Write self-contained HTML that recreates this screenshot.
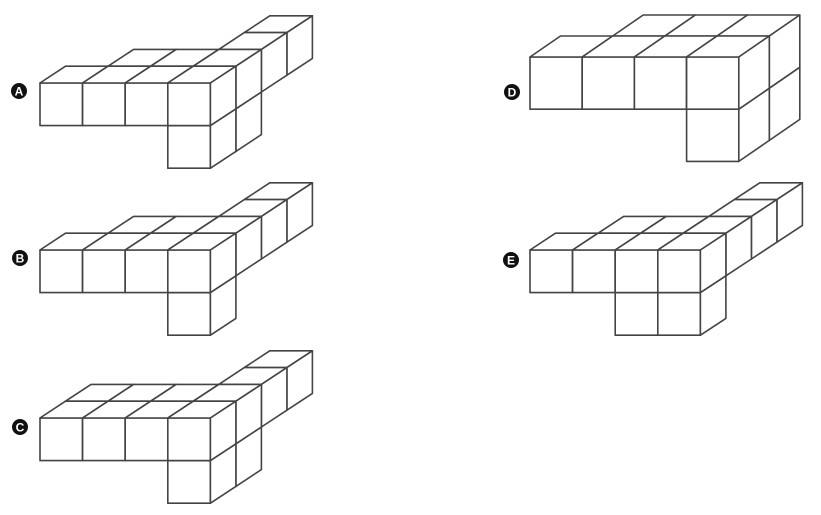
<!DOCTYPE html>
<html><head><meta charset="utf-8"><style>
html,body{margin:0;padding:0;background:#fff;width:821px;height:515px;overflow:hidden}
svg{display:block}
</style></head><body>
<svg id="s" width="821" height="515" viewBox="0 0 821 515" xmlns="http://www.w3.org/2000/svg">
<g font-family="Liberation Sans, sans-serif" font-weight="bold" font-size="12" text-anchor="middle" fill="#fff">
<circle cx="19" cy="91" r="8" fill="#111"/><text x="19" y="95.5">A</text>
<circle cx="20" cy="258" r="8" fill="#111"/><text x="20" y="262.5">B</text>
<circle cx="20" cy="427" r="8" fill="#111"/><text x="20" y="431.5">C</text>
<circle cx="512" cy="92" r="8" fill="#111"/><text x="512" y="96.5">D</text>
<circle cx="511" cy="260" r="8" fill="#111"/><text x="511" y="264.5">E</text>
</g>
<g id="cubes" fill="#fff" stroke="#444" stroke-width="1.6" stroke-linejoin="round"></g>
</svg>
<script>
var g=document.getElementById('cubes');
function fig(X0,Y0,s,dx,dy,cubes){
  cubes.sort(function(a,b){ if(a[1]!==b[1]) return b[1]-a[1]; if(a[2]!==b[2]) return a[2]-b[2]; return a[0]-b[0];});
  cubes.forEach(function(c){
    var x=X0+c[0]*s+c[1]*dx, y=Y0-c[2]*s+c[1]*dy;
    var P=function(pts){var p=document.createElementNS('http://www.w3.org/2000/svg','polygon');
      p.setAttribute('points',pts.map(function(q){return q[0].toFixed(1)+','+q[1].toFixed(1)}).join(' '));g.appendChild(p);};
    P([[x,y],[x+s,y],[x+s,y+s],[x,y+s]]);
    P([[x,y],[x+dx,y+dy],[x+s+dx,y+dy],[x+s,y]]);
    P([[x+s,y],[x+s+dx,y+dy],[x+s+dx,y+s+dy],[x+s,y+s]]);
  });
}
var s=42.6,dx=25.5,dy=-16.8;
var arm=[[3,2,0],[3,3,0]];
fig(40,83,s,dx,dy,[[0,0,0],[1,0,0],[2,0,0],[3,0,0],[1,1,0],[2,1,0],[3,1,0],[3,0,-1],[3,1,-1]].concat(arm.map(function(a){return a.slice()})));
fig(40,250,s,dx,dy,[[0,0,0],[1,0,0],[2,0,0],[3,0,0],[1,1,0],[2,1,0],[3,1,0],[3,0,-1]].concat(arm.map(function(a){return a.slice()})));
fig(40,418,s,dx,dy,[[0,0,0],[1,0,0],[2,0,0],[3,0,0],[0,1,0],[1,1,0],[2,1,0],[3,1,0],[3,0,-1],[3,1,-1]].concat(arm.map(function(a){return a.slice()})));
fig(530,57,52.2,30.5,-21,[[0,0,0],[1,0,0],[2,0,0],[3,0,0],[1,1,0],[2,1,0],[3,1,0],[3,0,-1],[3,1,-1]]);
fig(530,250,s,dx,dy,[[0,0,0],[1,0,0],[2,0,0],[3,0,0],[1,1,0],[2,1,0],[3,1,0],[2,0,-1],[3,0,-1]].concat(arm.map(function(a){return a.slice()})));
</script>
</body></html>
